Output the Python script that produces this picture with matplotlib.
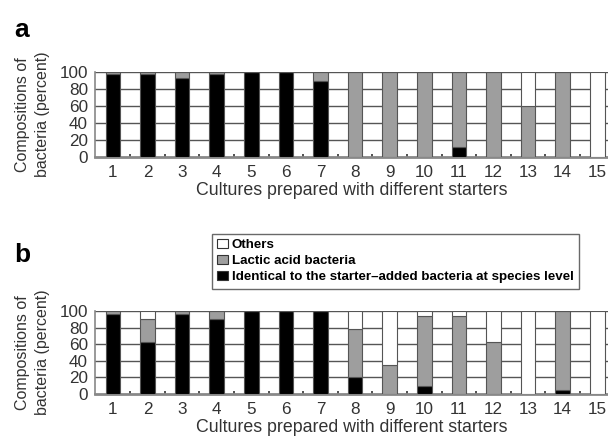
import numpy as np
from matplotlib import pyplot as plt
from matplotlib.patches import Patch

# cultures 1..15
cultures = list(range(1, 16))

# panel a (percent)
a_identical = [97, 97, 93, 97, 100, 100, 89, 0, 0, 0, 12, 0, 0, 0, 0]
a_lactic = [3, 3, 7, 3, 0, 0, 11, 100, 100, 100, 88, 100, 60, 100, 0]
a_others = [0, 0, 0, 0, 0, 0, 0, 0, 0, 0, 0, 0, 40, 0, 100]

# panel b (percent)
b_identical = [97, 63, 97, 90, 100, 100, 100, 21, 0, 10, 0, 0, 0, 5, 0]
b_lactic = [3, 27, 3, 10, 0, 0, 0, 57, 35, 84, 94, 63, 0, 95, 0]
b_others = [0, 10, 0, 0, 0, 0, 0, 22, 65, 6, 6, 37, 100, 0, 100]

legend_labels = ["Others", "Lactic acid bacteria",
                 "Identical to the starter\u2013added bacteria at species level"]

plt.rcParams['font.family'] = ['Liberation Sans', 'DejaVu Sans']

C_BLACK = "#000000"
C_GRAY = "#9e9e9e"
C_WHITE = "#ffffff"
EDGE = "#555555"
TXT = "#333333"


def draw_panel(ax, identical, lactic, others):
    x = np.array(cultures)
    ident = np.array(identical)
    lac = np.array(lactic)
    oth = np.array(others)
    w = 0.42
    ax.bar(x, ident, w, color=C_BLACK, edgecolor=EDGE, linewidth=0.8, zorder=3)
    ax.bar(x, lac, w, bottom=ident, color=C_GRAY, edgecolor=EDGE, linewidth=0.8, zorder=3)
    ax.bar(x, oth, w, bottom=ident + lac, color=C_WHITE, edgecolor=EDGE, linewidth=0.8, zorder=3)

    ax.set_xlim(0.48, 15.31)
    ax.set_ylim(0, 100)
    ax.set_yticks([0, 20, 40, 60, 80, 100])
    ax.set_xticks(cultures)
    ax.set_xticks(np.arange(1.5, 15.5, 1), minor=True)
    for y in [20, 40, 60, 80, 100]:
        ax.axhline(y, color="#555555", linewidth=1.0, zorder=1)
    ax.tick_params(axis='both', which='major', length=0, labelsize=12.3, labelcolor=TXT)
    ax.tick_params(axis='y', pad=5)
    ax.tick_params(axis='x', pad=6)
    ax.tick_params(axis='x', which='minor', direction='in', length=2.5, width=1.2, color="#333333")
    for s in ['top', 'right']:
        ax.spines[s].set_visible(False)
    ax.spines['left'].set_color("#888888")
    ax.spines['bottom'].set_color("#888888")
    ax.spines['bottom'].set_linewidth(2)
    ax.spines['left'].set_linewidth(1.2)
    ax.set_xlabel("Cultures prepared with different starters", fontsize=12.8, color=TXT, labelpad=1)
    ax.set_ylabel("Compositions of\nbacteria (percent)", fontsize=11.5, color=TXT, linespacing=1.35)
    ax.yaxis.set_label_coords(-0.088, 0.5)


fig = plt.figure(figsize=(6.08, 4.43), dpi=100)
ax_a = fig.add_axes([0.156, 0.6456, 0.844, 0.192])
ax_b = fig.add_axes([0.156, 0.1106, 0.844, 0.187])

draw_panel(ax_a, a_identical, a_lactic, a_others)
draw_panel(ax_b, b_identical, b_lactic, b_others)

fig.text(22 / 608, 1 - 30 / 443, "a", fontsize=19, fontweight='bold', ha='center', va='center')
fig.text(22 / 608, 1 - 255 / 443, "b", fontsize=19, fontweight='bold', ha='center', va='center')

handles = [Patch(facecolor=C_WHITE, edgecolor="#333333", linewidth=0.8),
           Patch(facecolor=C_GRAY, edgecolor="#333333", linewidth=0.8),
           Patch(facecolor=C_BLACK, edgecolor="#333333", linewidth=0.8)]
leg = fig.legend(handles, legend_labels, loc='upper left',
                 bbox_to_anchor=(212 / 608, 1 - 234 / 443),
                 prop={'weight': 'bold', 'size': 9.6},
                 frameon=True, fancybox=False, handlelength=0.8, handleheight=0.6,
                 handletextpad=0.3, labelspacing=0.3, borderpad=0.4, borderaxespad=0)
leg.get_frame().set_edgecolor("#444444")
leg.get_frame().set_linewidth(1.0)

plt.savefig("out.png", dpi=100)
